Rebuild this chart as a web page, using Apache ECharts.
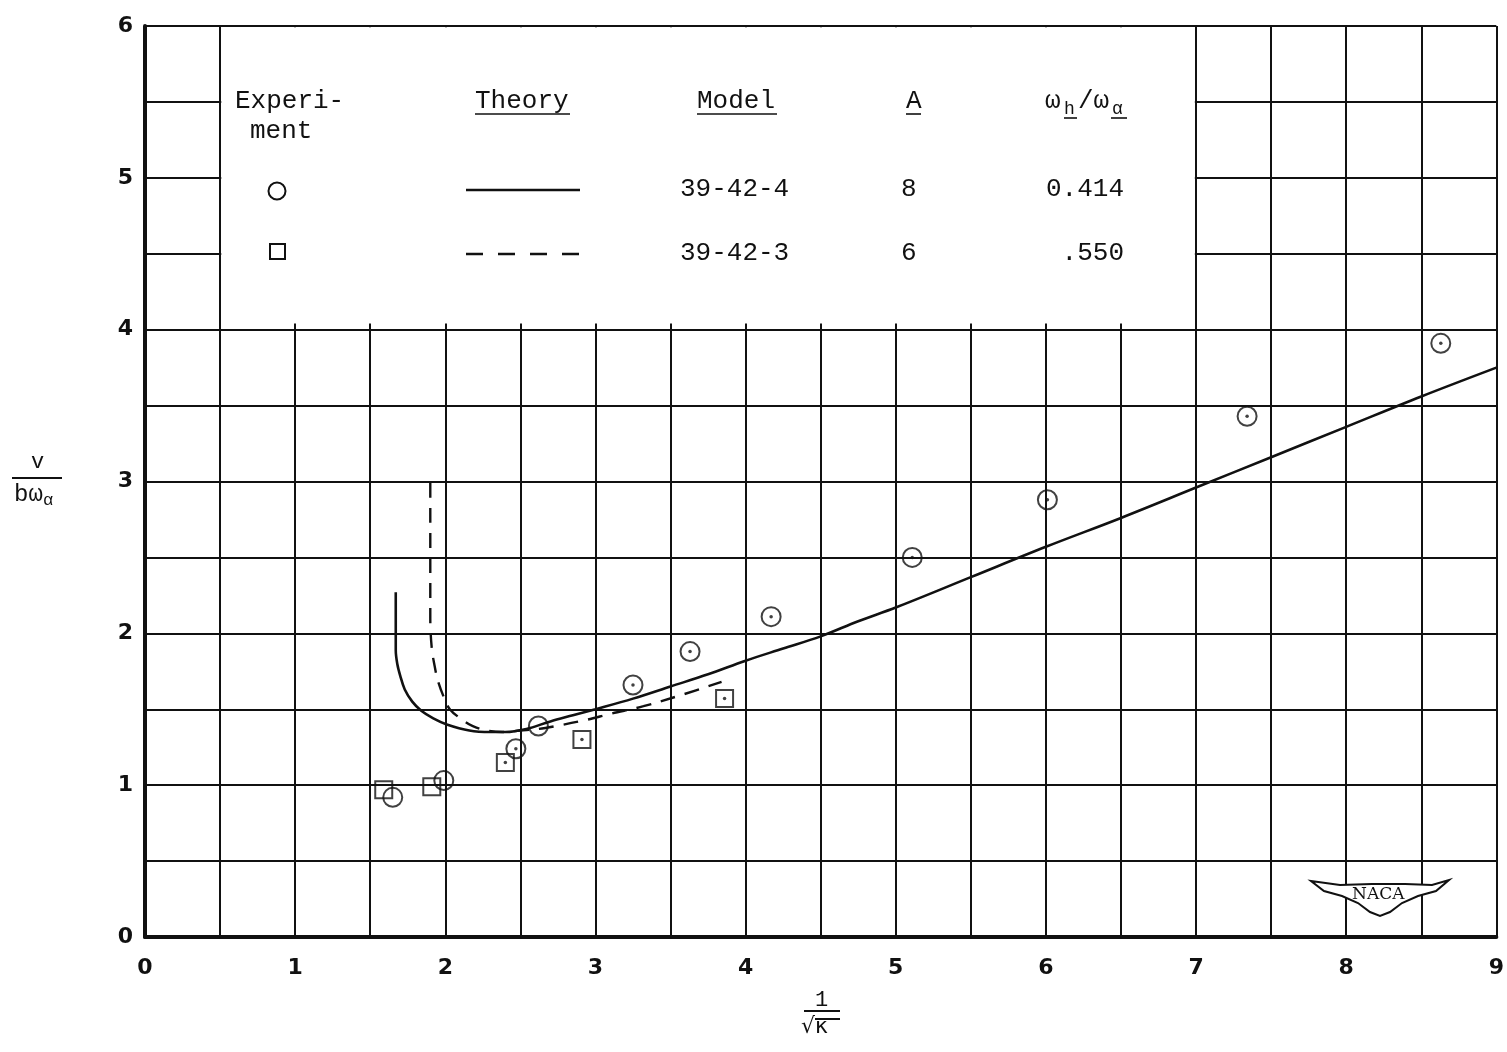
<!DOCTYPE html>
<html>
<head>
<meta charset="utf-8">
<script src="https://cdn.jsdelivr.net/npm/echarts@6/dist/echarts.min.js"></script>
<style>
html,body{margin:0;padding:0;background:#fff;}
#chart{width:1507px;height:1052px;}
</style>
</head>
<body>
<div id="chart"></div>
<script>
// ---- data ----
var xTicks = [0, 1, 2, 3, 4, 5, 6, 7, 8, 9];
var yTicks = [0, 1, 2, 3, 4, 5, 6];

// Experiment, model 39-42-4 (circles)
var circleX = [1.65, 1.99, 2.47, 2.62, 3.25, 3.63, 4.17, 5.11, 6.01, 7.34, 8.63];
var circleY = [0.92, 1.03, 1.24, 1.39, 1.66, 1.88, 2.11, 2.50, 2.88, 3.43, 3.91];
var circleDot = [false, false, true, false, true, true, true, true, true, true, true];

// Experiment, model 39-42-3 (squares)
var squareX = [1.59, 1.91, 2.40, 2.91, 3.86];
var squareY = [0.97, 0.99, 1.15, 1.30, 1.57];
var squareDot = [false, false, true, true, true];

// Theory, model 39-42-4 (solid)
var theoryAX = [1.67, 1.67, 1.67, 1.68, 1.70, 1.73, 1.78, 1.84, 1.92, 2.01, 2.16, 2.30, 2.40, 2.54, 2.70, 2.85, 3.00, 3.25, 3.50, 3.75, 4.00, 4.25, 4.50, 4.75, 5.00, 5.50, 6.00, 6.50, 7.00, 7.50, 8.00, 8.50, 9.00];
var theoryAY = [2.27, 2.05, 1.89, 1.80, 1.72, 1.63, 1.55, 1.49, 1.44, 1.40, 1.36, 1.35, 1.35, 1.37, 1.42, 1.46, 1.50, 1.57, 1.65, 1.73, 1.82, 1.90, 1.98, 2.08, 2.17, 2.37, 2.57, 2.76, 2.96, 3.16, 3.36, 3.56, 3.75];

// Theory, model 39-42-3 (dashed)
var theoryBX = [1.90, 1.90, 1.90, 1.91, 1.93, 1.95, 1.99, 2.03, 2.10, 2.18, 2.28, 2.38, 2.50, 2.62, 2.74, 2.94, 3.10, 3.32, 3.56, 3.84];
var theoryBY = [2.99, 2.50, 2.10, 1.90, 1.78, 1.69, 1.58, 1.50, 1.44, 1.39, 1.36, 1.35, 1.36, 1.37, 1.39, 1.43, 1.47, 1.52, 1.59, 1.68];

// legend table
var legModels = ['39-42-4', '39-42-3'];
var legA = ['8', '6'];
var legRatio = ['0.414', '.550'];

function pairs(xs, ys) { return xs.map(function (x, i) { return [x, ys[i]]; }); }
function dots(xs, ys, flags) {
  var out = [];
  xs.forEach(function (x, i) { if (flags[i]) out.push([x, ys[i]]); });
  return out;
}

var mono = 'Liberation Mono';
var ink = '#111';
var F = '26px "' + mono + '"';
var FS = '18px "' + mono + '"';
function txt(t, left, top, font) {
  return { type: 'text', left: left, top: top, z: 20, style: { text: t, font: font || F, fill: ink } };
}
function hline(x1, x2, y, w, dash) {
  var s = { stroke: ink, lineWidth: w || 1.6 };
  if (dash) s.lineDash = dash;
  return { type: 'line', z: 20, shape: { x1: x1, y1: y, x2: x2, y2: y }, style: s };
}

var chart = echarts.init(document.getElementById('chart'));

var option = {
  backgroundColor: '#fff',
  animation: false,
  grid: { left: 145, right: 10, top: 26, bottom: 115 },
  xAxis: {
    type: 'value', min: 0, max: 9, interval: 0.5,
    axisLine: { show: true, lineStyle: { color: ink, width: 4 } },
    axisTick: { show: false },
    splitLine: { show: true, lineStyle: { color: ink, width: 2 } },
    axisLabel: {
      margin: 20, color: ink, fontFamily: 'DejaVu Sans', fontWeight: 'bold', fontSize: 22,
      formatter: function (v) { return xTicks.indexOf(v) >= 0 ? String(v) : ''; }
    }
  },
  yAxis: {
    type: 'value', min: 0, max: 6, interval: 0.5,
    axisLine: { show: true, lineStyle: { color: ink, width: 4 } },
    axisTick: { show: false },
    splitLine: { show: true, lineStyle: { color: ink, width: 2 } },
    axisLabel: {
      margin: 12, color: ink, fontFamily: 'DejaVu Sans', fontWeight: 'bold', fontSize: 22,
      verticalAlign: 'middle', padding: [0, 0, 8, 0],
      formatter: function (v) { return yTicks.indexOf(v) >= 0 ? String(v) : ''; }
    }
  },
  series: [
    {
      type: 'line', data: [], silent: true,
      markArea: {
        silent: true,
        itemStyle: { color: '#fff', borderWidth: 0 },
        data: [[{ coord: [0.508, 4.04] }, { coord: [6.992, 5.992] }]]
      }
    },
    {
      name: 'theoryA', type: 'line', data: pairs(theoryAX, theoryAY),
      showSymbol: false, smooth: 0.35, z: 3,
      lineStyle: { color: ink, width: 2.6 }
    },
    {
      name: 'theoryB', type: 'line', data: pairs(theoryBX, theoryBY),
      showSymbol: false, smooth: 0.35, z: 3,
      lineStyle: { color: ink, width: 2.4, type: [15, 10] }
    },
    {
      name: 'circles', type: 'scatter', data: pairs(circleX, circleY),
      symbol: 'circle', symbolSize: 19, z: 4,
      itemStyle: { color: 'rgba(0,0,0,0)', borderColor: ink, borderWidth: 2 }
    },
    {
      name: 'squares', type: 'scatter', data: pairs(squareX, squareY),
      symbol: 'rect', symbolSize: 17, z: 4,
      itemStyle: { color: 'rgba(0,0,0,0)', borderColor: ink, borderWidth: 2 }
    },
    {
      name: 'dots', type: 'scatter',
      data: dots(circleX, circleY, circleDot).concat(dots(squareX, squareY, squareDot)),
      symbol: 'circle', symbolSize: 3.5, z: 5,
      itemStyle: { color: ink }
    }
  ],
  graphic: [
    // legend headers
    txt('Experi-', 235, 88),
    txt('ment', 250, 118),
    txt('Theory', 475, 88), hline(475, 570, 114),
    txt('Model', 697, 88), hline(697, 777, 114),
    txt('A', 906, 88), hline(906, 921, 114),
    txt('ω', 1045, 88),
    txt('h', 1064, 100, FS), hline(1064, 1077, 118),
    txt('/ω', 1078, 88),
    txt('α', 1112, 100, FS), hline(1111, 1127, 118),
    // row 1
    { type: 'circle', z: 20, shape: { cx: 277, cy: 191, r: 8.5 }, style: { fill: 'none', stroke: ink, lineWidth: 2 } },
    hline(466, 580, 190, 2.6),
    txt(legModels[0], 680, 176),
    txt(legA[0], 901, 176),
    { type: 'text', right: 1507 - 1124, top: 176, z: 20, style: { text: legRatio[0], font: F, fill: ink } },
    // row 2
    { type: 'rect', z: 20, shape: { x: 270, y: 244, width: 15, height: 15 }, style: { fill: 'none', stroke: ink, lineWidth: 2 } },
    hline(466, 580, 254, 2.4, [17, 15]),
    txt(legModels[1], 680, 240),
    txt(legA[1], 901, 240),
    { type: 'text', right: 1507 - 1124, top: 240, z: 20, style: { text: legRatio[1], font: F, fill: ink } },
    // y axis title: v / bωα
    txt('v', 31, 451, '22px "' + mono + '"'),
    hline(12, 62, 478, 2),
    txt('bω', 14, 483, '24px "' + mono + '"'),
    txt('α', 43, 492, '17px "' + mono + '"'),
    // x axis title: 1 / √κ
    txt('1', 815, 989, '22px "' + mono + '"'),
    hline(804, 840, 1011, 2),
    txt('√κ', 801, 1016, '22px "DejaVu Sans"'),
    hline(815, 840, 1019, 2),
    // NACA logo
    { type: 'polygon', z: 20, shape: { points: [
        [1311, 881], [1340, 885], [1372, 884], [1405, 884], [1432, 885], [1449, 880],
        [1436, 891], [1418, 896], [1402, 903], [1390, 912], [1380, 916], [1370, 912], [1358, 903], [1342, 896], [1324, 891]
      ] }, style: { fill: '#fff', stroke: ink, lineWidth: 2 } },
    txt('NACA', 1352, 886, '17px "DejaVu Serif"')
  ]
};
chart.setOption(option);
</script>
</body>
</html>
